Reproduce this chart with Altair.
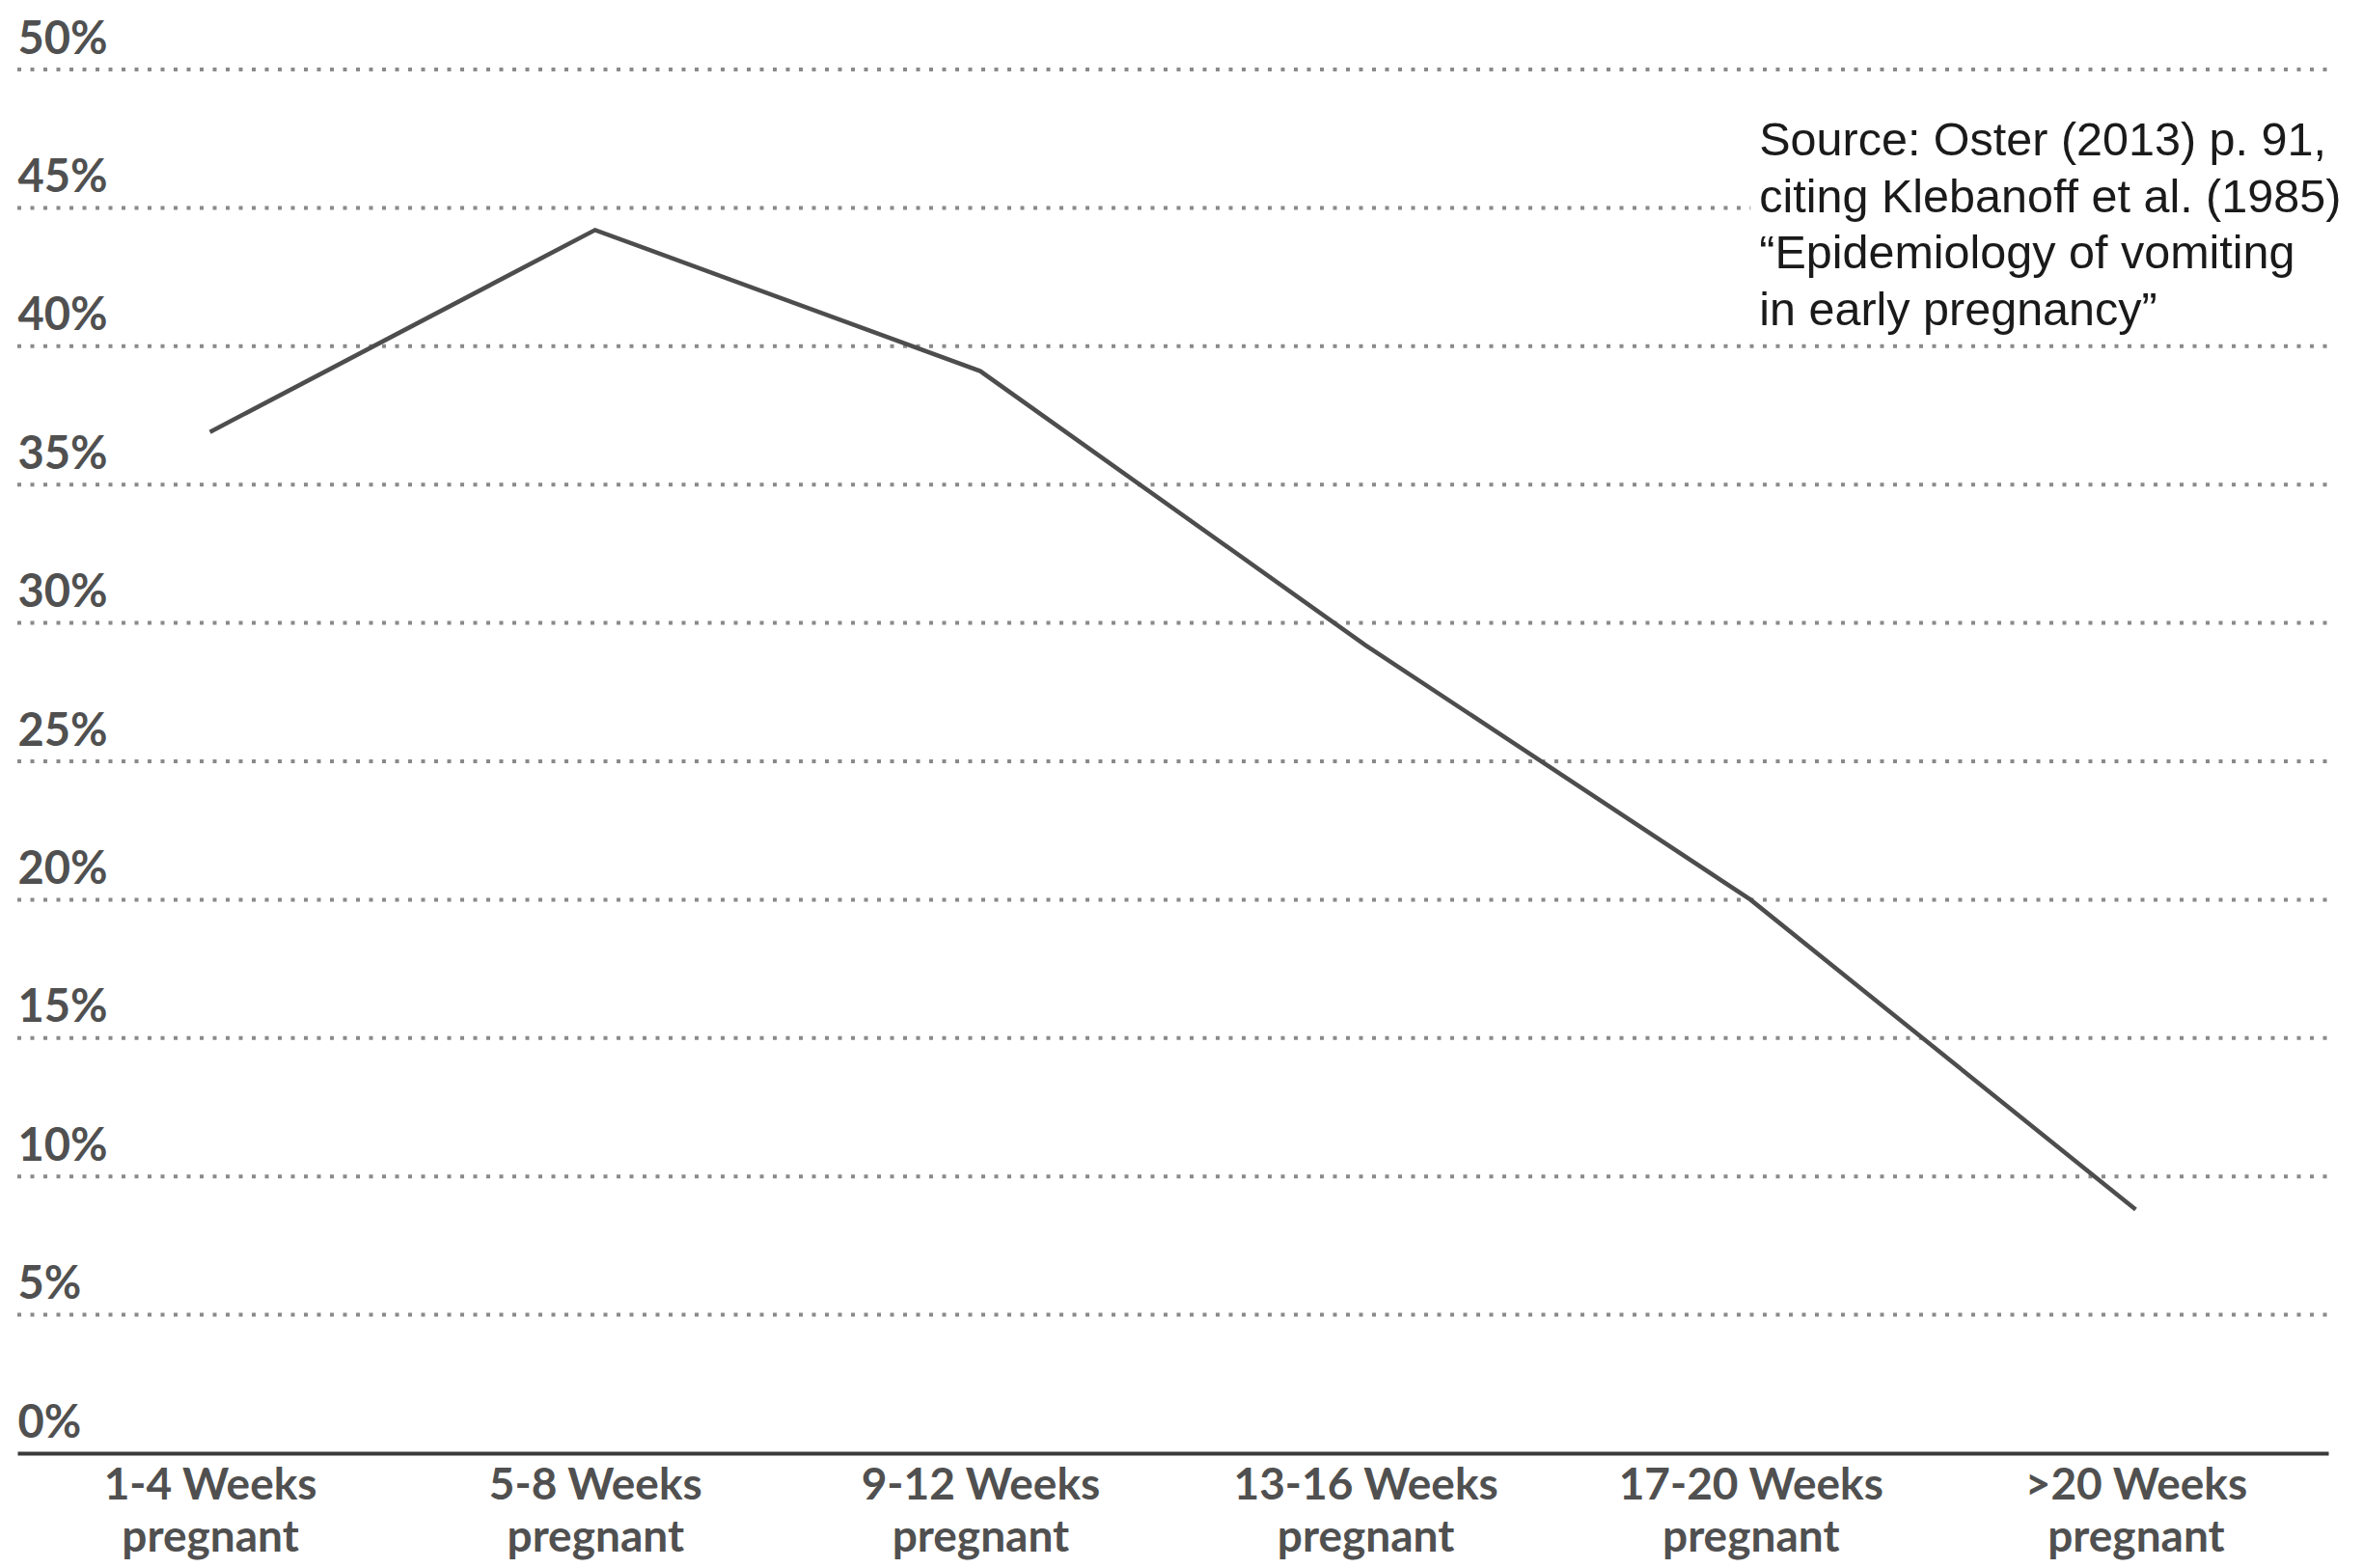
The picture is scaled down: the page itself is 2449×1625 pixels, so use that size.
import altair as alt
import pandas as pd

# ---- data ----
categories = ["1-4 Weeks", "5-8 Weeks", "9-12 Weeks", "13-16 Weeks", "17-20 Weeks", ">20 Weeks"]
values = [36.9, 44.2, 39.1, 29.2, 20.0, 8.8]
grid_values = [5, 10, 15, 20, 25, 30, 35, 40, 45, 50]
tick_values = [0, 5, 10, 15, 20, 25, 30, 35, 40, 45, 50]
source_lines = [
    "Source: Oster (2013) p. 91,",
    "citing Klebanoff et al. (1985)",
    "\u201cEpidemiology of vomiting",
    "in early pregnancy\u201d",
]
source_anchor_cat = "17-20 Weeks"
source_anchor_y = 46.9
box_y = [43.7, 46.3]

df = pd.DataFrame({"cat": categories, "val": values})
grid_df = pd.DataFrame({"g": grid_values})
src_df = pd.DataFrame({"cat": [source_anchor_cat], "y": [source_anchor_y], "t": [source_lines]})
box_df = pd.DataFrame({"cat": [source_anchor_cat], "y1": [box_y[0]], "y2": [box_y[1]]})

W, H = 2395, 1434
xscale = alt.Scale(type="point", domain=categories, padding=0.5)
yscale = alt.Scale(domain=[0, 50], nice=False)

label_font = "Lato"

x_enc = alt.X(
    "cat:O",
    scale=xscale,
    axis=alt.Axis(
        title=None,
        labelExpr="[datum.label, 'pregnant']",
        labelAngle=0,
        labelAlign="center",
        labelFont=label_font,
        labelFontWeight="bold",
        labelFontSize=46,
        labelLineHeight=54,
        labelColor="#505050",
        labelPadding=33,
        labelLimit=0,
        ticks=False,
        domain=True,
        domainColor="#3a3a3a",
        domainWidth=4,
        grid=False,
    ),
)

y_enc = alt.Y(
    "val:Q",
    scale=yscale,
    axis=alt.Axis(
        title=None,
        values=tick_values,
        labelExpr="datum.value + '%'",
        labelAlign="left",
        labelBaseline="alphabetic",
        labelOffset=-17,
        labelPadding=0,
        tickSize=0,
        ticks=False,
        domain=False,
        grid=False,
        labelFont=label_font,
        labelFontWeight="bold",
        labelFontSize=47,
        labelColor="#505050",
        labelOverlap=False,
        labelLimit=0,
    ),
)

grid = alt.Chart(grid_df).mark_rule(
    color="#8a8a8a", strokeWidth=4, strokeDash=[4, 9.5]
).encode(
    y=alt.Y("g:Q", scale=yscale),
    x=alt.value(0),
    x2=alt.value("width"),
)

line = alt.Chart(df).mark_line(color="#4d4d4d", strokeWidth=4.5).encode(
    x=x_enc, y=y_enc
)

box = alt.Chart(box_df).mark_rect(color="white").encode(
    x=alt.X("cat:O", scale=xscale),
    x2=alt.value("width"),
    y=alt.Y("y1:Q", scale=yscale),
    y2="y2:Q",
)

src = alt.Chart(src_df).mark_text(
    align="left",
    baseline="alphabetic",
    font="Liberation Sans",
    fontSize=48.5,
    lineHeight=58.6,
    color="#1a1a1a",
    dx=9,
).encode(
    x=alt.X("cat:O", scale=xscale),
    y=alt.Y("y:Q", scale=yscale),
    text="t",
)

chart = alt.layer(grid, box, line, src).properties(
    width=W,
    height=H,
    autosize=alt.AutoSizeParams(type="none"),
    padding={"left": 10, "top": 64, "right": 20, "bottom": 111},
).configure_view(stroke=None)

chart.save("out.html", embed_options={"renderer": "svg", "actions": False})
